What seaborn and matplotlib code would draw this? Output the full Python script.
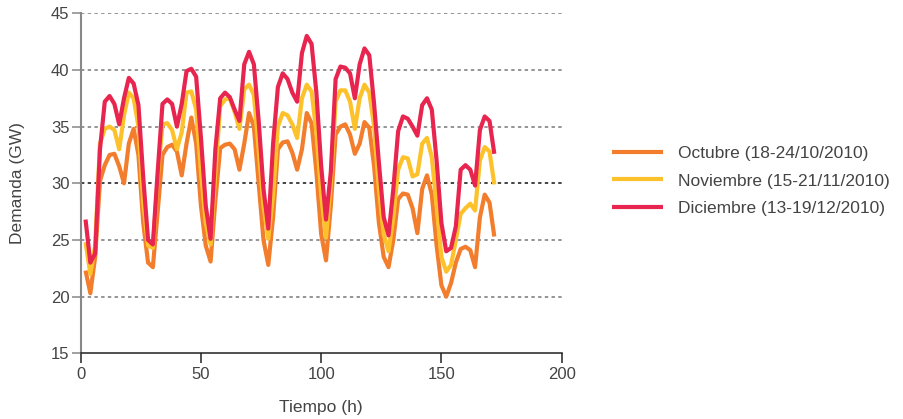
import pandas as pd
import numpy as np
import seaborn as sns
import matplotlib.pyplot as plt

sns.set_style("white")
plt.rcParams['font.family'] = ['Liberation Sans', 'DejaVu Sans']

# hourly demand readings (every 2 h), GW
hours = list(range(2, 173, 2))

octubre = [22.3, 20.3, 23.5, 30.2, 31.6, 32.5, 32.6, 31.5, 30.0, 33.5,
           34.8, 32.5, 26.5, 23.0, 22.6, 27.5, 32.5, 33.2, 33.4, 32.8,
           30.7, 33.5, 35.8, 33.5, 28.0, 24.5, 23.1, 28.5, 33.1, 33.4,
           33.5, 33.0, 31.2, 33.5, 36.2, 35.0, 30.0, 25.0, 22.8, 27.0,
           33.0, 33.6, 33.7, 32.7, 31.2, 33.0, 36.2, 35.3, 31.0, 25.5,
           23.2, 28.0, 34.3, 35.0, 35.2, 34.3, 32.6, 33.5, 35.4, 34.9,
           31.5, 26.5, 23.5, 22.6, 25.0, 28.6, 29.1, 29.0, 27.8, 25.6,
           29.5, 30.7, 29.0, 24.5, 21.0, 20.0, 21.2, 23.0, 24.2, 24.4,
           24.1, 22.6, 27.0, 29.0, 28.3, 25.3]

noviembre = [24.8, 22.0, 24.5, 33.5, 34.8, 35.0, 34.7, 33.0, 36.0, 38.0,
             37.5, 35.0, 28.3, 24.5, 24.3, 30.5, 35.2, 35.3, 34.7, 33.0,
             34.5, 38.0, 38.1, 36.5, 31.0, 26.5, 24.6, 31.0, 36.8, 37.4,
             37.5, 36.3, 34.8, 38.3, 38.7, 37.8, 33.0, 28.0, 25.1, 29.0,
             35.0, 36.2, 36.0, 35.2, 34.0, 37.5, 38.7, 38.1, 34.5, 29.0,
             25.2, 30.0, 37.2, 38.2, 38.2, 37.2, 34.8, 37.5, 38.7, 38.0,
             35.0, 29.5, 25.5, 24.0, 27.0, 31.2, 32.3, 32.2, 30.6, 30.8,
             33.5, 34.0, 32.3, 28.0, 23.5, 22.2, 22.8, 25.0, 27.3, 27.8,
             28.2, 27.6, 32.0, 33.2, 32.8, 29.9]

diciembre = [26.8, 23.0, 23.8, 33.0, 37.2, 37.7, 37.0, 35.2, 37.5, 39.3,
             38.8, 36.9, 30.5, 25.0, 24.6, 31.0, 37.0, 37.4, 37.0, 35.0,
             37.0, 39.9, 40.1, 39.4, 34.0, 28.0, 25.1, 33.0, 37.5, 38.0,
             37.6, 36.5, 35.5, 40.5, 41.6, 40.5, 35.5, 29.5, 26.0, 33.5,
             38.5, 39.7, 39.2, 38.0, 37.2, 41.5, 43.0, 42.3, 38.0, 31.5,
             26.8, 31.0, 39.2, 40.3, 40.2, 39.7, 37.5, 40.5, 41.9, 41.3,
             37.0, 31.8, 27.0, 25.4, 29.5, 34.6, 35.9, 35.7, 35.0, 34.2,
             36.9, 37.5, 36.5, 32.0, 26.5, 24.0, 24.3, 26.2, 31.2, 31.6,
             31.2, 29.8, 34.7, 35.9, 35.5, 32.6]

labels = ['Octubre (18-24/10/2010)', 'Noviembre (15-21/11/2010)', 'Diciembre (13-19/12/2010)']
colors = ['#F27D2C', '#FDC22B', '#E8254F']

df = pd.concat([
    pd.DataFrame({'Tiempo': hours, 'Demanda': vals, 'Mes': lab})
    for vals, lab in zip([octubre, noviembre, diciembre], labels)
])

fig = plt.figure(figsize=(9.04, 4.19), dpi=100)
ax = fig.add_axes([0.0893, 0.1568, 0.532, 0.8115])

for y in [20, 25, 30, 35, 40, 45]:
    ax.axhline(y, color='#111111' if y == 30 else '#777777', lw=1.1,
               dashes=(2.2, 2.2), zorder=0)

sns.lineplot(data=df, x='Tiempo', y='Demanda', hue='Mes', palette=colors,
             linewidth=3, ax=ax, solid_joinstyle='round', solid_capstyle='butt')

ax.set_xlim(0, 200)
ax.set_ylim(15, 45)
ax.set_xticks([0, 50, 100, 150, 200])
ax.set_yticks([15, 20, 25, 30, 35, 40, 45])

for s in ['top', 'right']:
    ax.spines[s].set_visible(False)
ax.spines['left'].set_color('#888888')
ax.spines['left'].set_linewidth(1.5)
ax.spines['bottom'].set_color('#222222')
ax.spines['bottom'].set_linewidth(1.1)

ax.tick_params(axis='x', direction='out', length=7, width=1.1, color='#222222',
               labelsize=12, labelcolor='#444444', pad=3, bottom=True)
ax.tick_params(axis='y', direction='out', length=6.5, width=1.1, color='#888888',
               labelsize=12, labelcolor='#444444', pad=1.5, left=True)

ax.set_xlabel('Tiempo (h)', fontsize=12.5, color='#444444', labelpad=13)
ax.set_ylabel('Demanda (GW)', fontsize=12.5, color='#444444', labelpad=19)

leg = ax.legend(loc='center left', bbox_to_anchor=(612 / 904, 1 - 181 / 419),
                bbox_transform=fig.transFigure, frameon=False, fontsize=12.5,
                handlelength=2.95, handletextpad=0.85, labelspacing=0.72,
                borderpad=0, borderaxespad=0)
for t in leg.get_texts():
    t.set_color('#444444')
for h in leg.get_lines():
    h.set_linewidth(3)

fig.savefig('out.png', dpi=100)
